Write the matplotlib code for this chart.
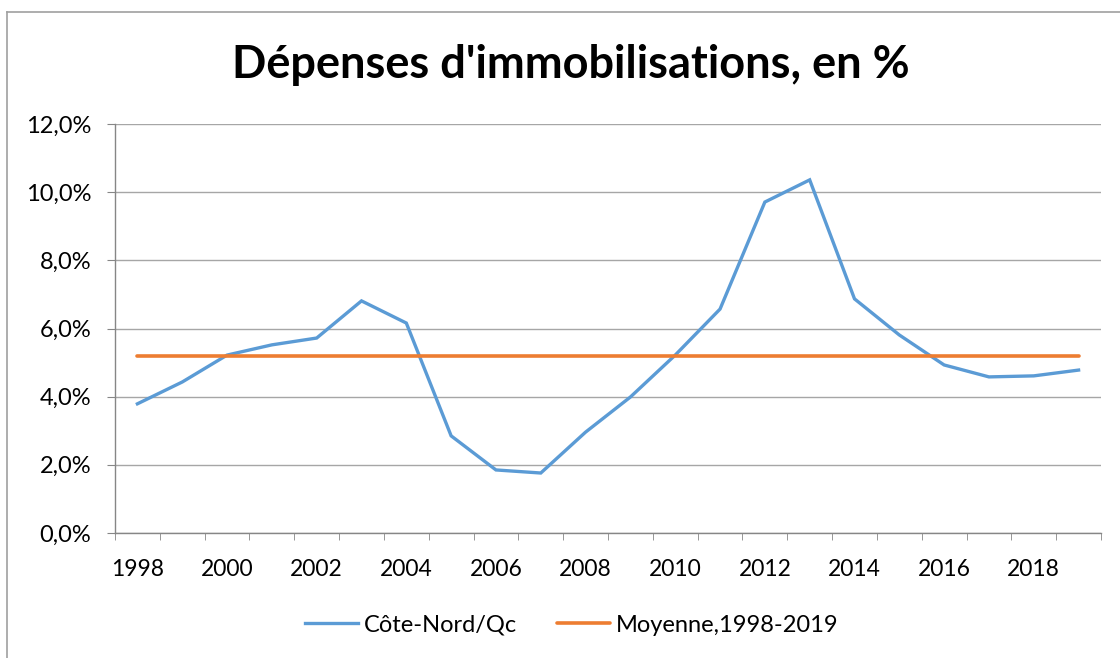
import numpy as np
import matplotlib
matplotlib.use("Agg")
import matplotlib.pyplot as plt
from matplotlib.lines import Line2D
from matplotlib.ticker import FuncFormatter

plt.rcParams['font.family'] = ['Lato', 'DejaVu Sans']

years = list(range(1998, 2020))
cote_nord = [3.79, 4.43, 5.22, 5.52, 5.72, 6.81, 6.16, 2.85, 1.85, 1.76, 2.96,
             3.99, 5.22, 6.57, 9.71, 10.36, 6.87, 5.81, 4.93, 4.58, 4.61, 4.78]
moyenne = 5.20
title = "Dépenses d'immobilisations, en %"
serie_labels = ["Côte-Nord/Qc", "Moyenne,1998-2019"]

W, H = 1120, 658
fig = plt.figure(figsize=(W/100, H/100), dpi=100)
ax = fig.add_axes([115/W, 1-533/H, 986/W, 409/H])

x = np.arange(len(years))
vals = np.array(cote_nord) / 100
ax.plot(x, vals, color='#5B9BD5', lw=2.4, solid_joinstyle='miter', label=serie_labels[0], zorder=3)
ax.plot(x, [moyenne/100]*len(x), color='#ED7D31', lw=2.6, solid_capstyle='round', label=serie_labels[1], zorder=3)

ax.set_xlim(-0.5, len(years)-0.5)
ax.set_ylim(0, 0.12)
ax.set_yticks(np.arange(0, 0.121, 0.02))
ax.yaxis.set_major_formatter(FuncFormatter(lambda v, p: f"{v*100:.1f}%".replace('.', ',')))
ax.set_xticks(x[::2])
ax.set_xticklabels([str(y) for y in years[::2]])
ax.set_xticks(np.arange(-0.5, len(years), 1), minor=True)

ax.grid(axis='y', color='#A6A6A6', lw=1.0)
ax.set_axisbelow(True)
for s in ['top', 'right']:
    ax.spines[s].set_visible(False)
for s in ['left', 'bottom']:
    ax.spines[s].set_color('#868686')
    ax.spines[s].set_linewidth(1.0)

ax.tick_params(axis='y', length=6, color='#868686', labelsize=17, pad=11)
ax.tick_params(axis='x', which='major', length=0, labelsize=16.5, pad=19)
ax.tick_params(axis='x', which='minor', length=5, color='#868686')

fig.text(571/W, 1-65/H, title, ha='center', va='center', fontsize=32.5, fontweight='bold')

fig.legend(loc='center', bbox_to_anchor=(572/W, 1-625/H), ncol=2, frameon=False,
           fontsize=17, handlelength=2.25, handletextpad=0.25, columnspacing=1.7)

# bordure du graphique
fig.add_artist(Line2D([7/W, 1], [1-12/H, 1-12/H], color='#A0A0A0', lw=1.2))
fig.add_artist(Line2D([7/W, 7/W], [0, 1-12/H], color='#A0A0A0', lw=1.2))

fig.savefig("out.png", dpi=100)
